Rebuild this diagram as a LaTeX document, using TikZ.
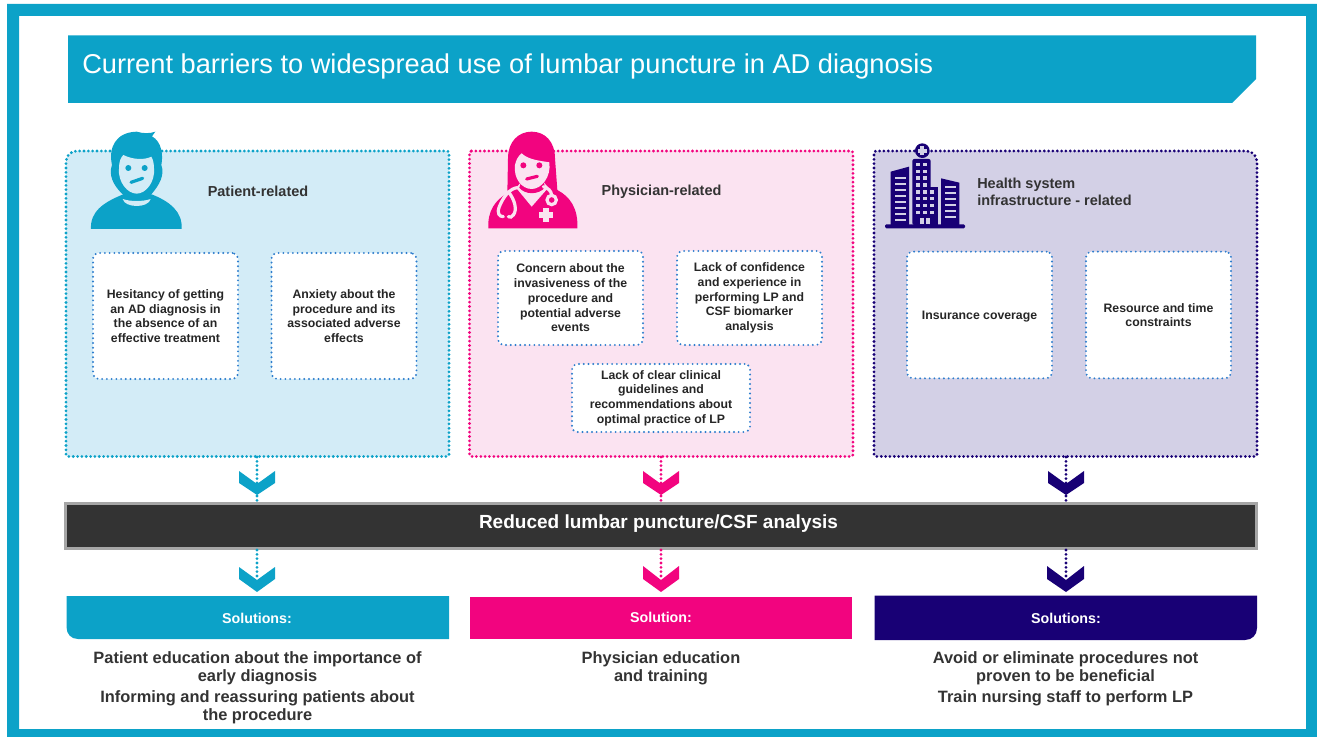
\documentclass[tikz,border=0pt]{standalone}
\usepackage{fontspec}
\setmainfont{Liberation Sans}
\usetikzlibrary{positioning}
\definecolor{teal}{RGB}{12,162,200}
\definecolor{rose}{RGB}{242,4,127}
\definecolor{navy}{RGB}{24,0,117}
\definecolor{tealpale}{RGB}{211,236,247}
\definecolor{rosepale}{RGB}{251,227,241}
\definecolor{navypale}{RGB}{211,208,230}
\definecolor{boxdot}{RGB}{45,125,205}
\definecolor{inkdark}{RGB}{51,51,51}
\tikzset{
  paneldots/.style={line width=2.3pt,line cap=round,dash pattern=on 0pt off 3.25pt},
  boxdots/.style={line width=1.6pt,line cap=round,dash pattern=on 0pt off 3.55pt},
  reasonbox/.style={draw=boxdot,fill=white,boxdots,rounded corners=4pt,align=center,inner sep=0pt,
    minimum width=108.75pt,font=\fontsize{9.2}{11.05}\selectfont\bfseries,text=black!85},
  headtext/.style={font=\fontsize{10.85}{13}\selectfont\bfseries,text=inkdark,align=left},
  soltext/.style={font=\fontsize{10.7}{13}\selectfont\bfseries,text=white},
  fixtext/.style={font=\fontsize{12.3}{13.6}\selectfont\bfseries,text=inkdark,align=center},
}
\begin{document}
\begin{tikzpicture}[x=0.75pt,y=0.75pt,yscale=-1,xscale=1]
\useasboundingbox (0,0) rectangle (1317,737);

%Shape: Frame
\fill [teal,even odd rule] (7,4) rectangle (1317,737) (19,16) rectangle (1306,729);
%Shape: Title banner
\fill [teal] (68,35.5) -- (1256,35.5) -- (1256,79) -- (1232,103) -- (68,103) -- cycle;
% Text Node
\draw (82,66) node [anchor=west,inner sep=0pt,text=white,font=\fontsize{20.43}{24}\selectfont] (title) {Current barriers to widespread use of lumbar puncture in AD diagnosis};

%Shape: Panels
\draw [teal,fill=tealpale,paneldots] (66,300) [rounded corners=8pt] -- (66,151) [rounded corners=1.5pt] -- (449,151) -- (449,456.5) -- (66,456.5) -- cycle;
\draw [rose,fill=rosepale,paneldots,rounded corners=1.5pt] (469.5,151) -- (853,151) -- (853,456.5) -- (469.5,456.5) -- cycle;
\draw [navy,fill=navypale,paneldots] (874,300) [rounded corners=1.5pt] -- (874,151) [rounded corners=8pt] -- (1257,151) [rounded corners=1.5pt] -- (1257,456.5) -- (874,456.5) -- cycle;
\coordinate (patientfoot) at (257,457);
\coordinate (physicianfoot) at (661,457);
\coordinate (systemfoot) at (1066,457);

%Shape: Central bar
\draw (661.3,526) node [draw=black!35,line width=2.25pt,fill=inkdark,minimum width=893pt,minimum height=33.75pt,inner sep=0pt] (bar) {};
% Text Node
\draw (658.5,524) node [text=white,font=\fontsize{14.25}{16}\selectfont\bfseries] (bartitle) {Reduced lumbar puncture/CSF analysis};

%Straight Lines
\coordinate (patienttip) at (257,580);
\coordinate (physiciantip) at (661,580);
\coordinate (systemtip) at (1066,580);
\draw [teal,paneldots] (patientfoot) -- (bar.north -| patientfoot);
\draw [rose,paneldots] (physicianfoot) -- (bar.north -| physicianfoot);
\draw [navy,paneldots] (systemfoot) -- (bar.north -| systemfoot);
\draw [teal,paneldots] (bar.south -| patienttip) -- (patienttip);
\draw [rose,paneldots] (bar.south -| physiciantip) -- (physiciantip);
\draw [navy,paneldots] (bar.south -| systemtip) -- (systemtip);

%Shape: Chevrons
\fill [teal] (239,471) -- (257,484) -- (275,471) -- (275,483) -- (257,495) -- (239,483) -- cycle;
\fill [rose] (643,471) -- (661,484) -- (679,471) -- (679,483) -- (661,495) -- (643,483) -- cycle;
\fill [navy] (1048,471) -- (1066,484) -- (1084,471) -- (1084,483) -- (1066,495) -- (1048,483) -- cycle;
\fill [teal] (239,567) -- (257,580) -- (275,567) -- (275,579) -- (257,592) -- (239,579) -- cycle;
\fill [rose] (643,566) -- (661,580) -- (679,566) -- (679,579) -- (661,592) -- (643,579) -- cycle;
\fill [navy] (1047,566) -- (1066,580) -- (1084,566) -- (1084,579) -- (1066,592) -- (1047,579) -- cycle;

%Shape: Solution bars
\fill [teal] (66.5,596) -- (449,596) -- (449,639) -- (78,639) .. controls (71,639) and (66.5,634) .. (66.5,627) -- cycle;
\fill [rose] (469.5,597) rectangle (852,639);
\fill [navy] (874.5,595.5) -- (1257,595.5) -- (1257,628) .. controls (1257,635) and (1252,640) .. (1245,640) -- (874.5,640) -- cycle;

%Icon: patient
\begin{scope}[shift={(80,125)},scale=1/3]
\fill [teal] (33,312) .. controls (30,260) and (70,232) .. (130,208) -- (215,208) .. controls (270,230) and (308,260) .. (305,312) -- cycle;
\fill [tealpale] (128,222) .. controls (150,230) and (190,230) .. (212,222) .. controls (205,250) and (135,250) .. (128,222) -- cycle;
\fill [teal] (125,205) .. controls (100,180) and (85,150) .. (96,120) .. controls (85,70) and (105,22) .. (170,20) .. controls (190,26) and (210,26) .. (226,20) -- (216,34) .. controls (245,50) and (250,90) .. (244,120) .. controls (255,150) and (238,180) .. (214,208) .. controls (195,232) and (145,232) .. (125,205) -- cycle;
\fill [tealpale] (117,130) .. controls (117,110) and (122,98) .. (130,90) .. controls (160,105) and (195,105) .. (214,95) .. controls (220,105) and (222,118) .. (222,130) .. controls (226,170) and (198,206) .. (170,206) .. controls (142,206) and (113,170) .. (117,130) -- cycle;
\fill [teal] (145,129) circle (9);
\fill [teal] (194,129) circle (9);
\draw [teal,line width=2.4pt,line cap=round] (153,172) -- (188,160);
\end{scope}

%Icon: physician
\begin{scope}[shift={(480,125)},scale=1/3]
\fill [rose] (25,310) .. controls (22,260) and (45,225) .. (82,205) -- (84,100) .. controls (84,50) and (115,20) .. (155,20) .. controls (195,20) and (225,50) .. (225,100) -- (232,195) .. controls (270,215) and (295,250) .. (292,310) -- cycle;
\fill [rosepale] (108,188) -- (155,245) -- (205,188) -- (190,170) -- (125,170) -- cycle;
\fill [rose] (118,188) .. controls (135,210) and (175,210) .. (195,188) -- (190,165) -- (125,165) -- cycle;
\fill [rosepale] (105,120) .. controls (108,105) and (115,92) .. (125,85) .. controls (145,105) and (185,108) .. (208,112) .. controls (214,155) and (185,192) .. (155,192) .. controls (125,192) and (100,160) .. (105,120) -- cycle;
\fill [rose] (130,121) circle (9);
\fill [rose] (178,121) circle (9);
\draw [rose,line width=2.4pt,line cap=round] (140,162) -- (172,154);
\draw [rosepale,line width=2.4pt,line cap=round] (112,188) .. controls (90,190) and (70,215) .. (58,245) .. controls (50,265) and (58,275) .. (70,275);
\draw [rosepale,line width=2.4pt,line cap=round] (85,200) .. controls (105,225) and (112,255) .. (100,270) .. controls (95,277) and (90,278) .. (85,275);
\draw [rosepale,line width=2.4pt,line cap=round] (190,185) .. controls (205,190) and (213,197) .. (215,210);
\draw [rosepale,line width=2.4pt] (215,225) circle (14);
\fill [rosepale] (188,248) rectangle (208,292);
\fill [rosepale] (176,260) rectangle (220,280);
\end{scope}

%Icon: health system
\begin{scope}[shift={(880,135)},scale=1/3]
\fill [navy,rounded corners=1pt] (15,268) rectangle (255,280);
\fill [navy] (32,110) -- (87,95) -- (87,270) -- (32,270) -- cycle;
\fill [navy,rounded corners=1.5pt] (97,72) rectangle (152,270);
\fill [navy] (150,155) rectangle (173,270);
\fill [navy] (183,130) -- (238,143) -- (238,270) -- (183,270) -- cycle;
\fill [navy] (127,47) circle (22);
\fill [navypale] (121,34) rectangle (133,60);
\fill [navypale] (114,41) rectangle (140,53);
\foreach \ypos in {125,143,161,180,198,216,234,252} {\fill [navypale] (45,\ypos) rectangle (77,\ypos+6);}
\foreach \ypos in {152,170,189,207,225,243} {\fill [navypale] (195,\ypos) rectangle (227,\ypos+6);}
\foreach \ypos in {83,104,124,145,166,186,207,228} {\fill [navypale] (109,\ypos) rectangle (119,\ypos+10); \fill [navypale] (130,\ypos) rectangle (140,\ypos+10);}
\foreach \ypos in {166,186,207,228} {\fill [navypale] (151,\ypos) rectangle (161,\ypos+10);}
\fill [navypale] (120,248) rectangle (133,268);
\fill [navypale] (137,248) rectangle (150,268);
\end{scope}

% Text Node
\draw (258,191.5) node [headtext] (patienthead) {Patient-related};
% Text Node
\draw (661.5,191.5) node [headtext] (physicianhead) {Physician-related};
% Text Node
\draw (977,191.5) node [headtext,anchor=west,inner sep=0pt] (systemhead) {Health system\\infrastructure - related};

% Text Node
\draw (165.5,316) node [reasonbox,minimum height=94.5pt] (hesitancy) {Hesitancy of getting\\an AD diagnosis in\\the absence of an\\effective treatment};
% Text Node
\draw (344,316) node [reasonbox,minimum height=94.5pt] (anxiety) {Anxiety about the\\procedure and its\\associated adverse\\effects};
% Text Node
\draw (570.5,298) node [reasonbox,minimum height=70.5pt] (concern) {Concern about the\\invasiveness of the\\procedure and\\potential adverse\\events};
% Text Node
\draw (749.5,298) node [reasonbox,minimum height=70.5pt] (confidence) {Lack of confidence\\and experience in\\performing LP and\\CSF biomarker\\analysis};
% Text Node
\draw (661,398) node [reasonbox,minimum width=133.5pt,minimum height=51pt] (guidelines) {Lack of clear clinical\\guidelines and\\recommendations about\\optimal practice of LP};
% Text Node
\draw (979.5,315) node [reasonbox,minimum height=95pt,text height=6.6pt,text depth=0pt] (insurance) {Insurance coverage};
% Text Node
\draw (1158.5,315) node [reasonbox,minimum height=95pt] (resource) {Resource and time\\constraints};

% Text Node
\draw (257,618.5) node [soltext] (patientsol) {Solutions:};
% Text Node
\draw (661,617.5) node [soltext] (physiciansol) {Solution:};
% Text Node
\draw (1066,618.5) node [soltext] (systemsol) {Solutions:};

% Text Node
\draw (257.5,668) node [fixtext] (patientfixa) {Patient education about the importance of\\early diagnosis};
% Text Node
\draw (257.5,707) node [fixtext] (patientfixb) {Informing and reassuring patients about\\the procedure};
% Text Node
\draw (661,668) node [fixtext] (physicianfix) {Physician education\\and training};
% Text Node
\draw (1065.5,668) node [fixtext] (systemfixa) {Avoid or eliminate procedures not\\proven to be beneficial};
% Text Node
\draw (1065.5,698) node [fixtext] (systemfixb) {Train nursing staff to perform LP};
\end{tikzpicture}
\end{document}
